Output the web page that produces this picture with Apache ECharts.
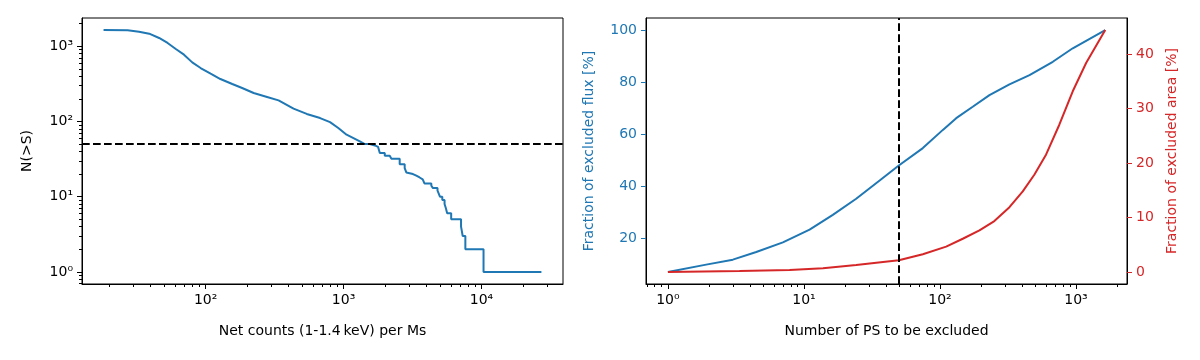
<!DOCTYPE html>
<html>
<head>
<meta charset="utf-8">
<script src="https://cdn.jsdelivr.net/npm/echarts@6/dist/echarts.min.js"></script>
<style>
  html, body { margin: 0; padding: 0; background: #fff; }
  #chart { width: 1200px; height: 360px; }
</style>
</head>
<body>
<div id="chart"></div>
<script>
// left panel: cumulative source counts N(>S)
const netCounts = [18.2, 27.2, 32.9, 39, 46, 53, 60.8, 69.7, 80, 92, 108.7, 128, 156, 184, 223, 279, 338, 434, 541, 676, 798, 916, 1052, 1313, 1426];
const nAbove = [1640, 1630, 1563, 1470, 1290, 1107, 921, 773, 611, 514, 432, 367, 315, 279, 239, 212, 191, 148, 126, 111, 98, 82, 66.7, 54.4, 50];
// bright end, drawn as steps
const tailCounts = [1426, 1549, 1687, 1778, 1832, 1990, 2162, 2224, 2553, 2775, 2852, 2933, 3185, 3370, 3560, 3750, 3860, 4330, 4450, 4800, 4900, 5000, 5200, 5400, 5520, 5640, 6030, 7110, 7310, 7640, 10350, 27200];
const tailN = [50, 48, 46, 44, 38, 35, 33, 32, 27, 24, 21, 20, 19, 18, 17, 16, 15, 14, 13, 12, 11, 10, 9, 8, 7, 6, 5, 4, 3, 2, 1, 1];
const cutLevel = 50;

// right panel: excluded flux / area vs number of PS
const psFlux = [1, 1.91, 3.0, 4.46, 7.0, 11.0, 16.3, 24.2, 36, 49.8, 74.8, 105, 131.6, 174, 231, 324, 455, 675, 946, 1640];
const fluxFrac = [6.9, 9.75, 11.67, 14.6, 18.3, 23.2, 28.9, 35.1, 42.1, 47.9, 54.6, 61.6, 66.1, 70.5, 75.0, 79.1, 82.7, 87.8, 93.0, 100];
const psArea = [1, 3.36, 7.84, 13.8, 24.2, 49.8, 74.8, 111, 147, 195, 251, 324, 406, 495, 603, 755, 946, 1186, 1640];
const areaFrac = [0, 0.18, 0.37, 0.68, 1.28, 2.14, 3.24, 4.65, 6.1, 7.64, 9.34, 11.9, 14.8, 17.9, 21.6, 27.1, 33.2, 38.4, 44.45];

// ticks
const majorLeftX = [100, 1000, 10000];
const minorLeftX = [20, 30, 40, 50, 60, 70, 80, 90, 200, 300, 400, 500, 600, 700, 800, 900,
  2000, 3000, 4000, 5000, 6000, 7000, 8000, 9000, 20000, 30000];
const majorLeftY = [1, 10, 100, 1000];
const minorLeftY = [0.7, 0.8, 0.9, 2, 3, 4, 5, 6, 7, 8, 9, 20, 30, 40, 50, 60, 70, 80, 90,
  200, 300, 400, 500, 600, 700, 800, 900, 2000];
const majorRightX = [1, 10, 100, 1000];
const minorRightX = [0.7, 0.8, 0.9, 2, 3, 4, 5, 6, 7, 8, 9, 20, 30, 40, 50, 60, 70, 80, 90,
  200, 300, 400, 500, 600, 700, 800, 900, 2000];
const fluxTicks = [20, 40, 60, 80, 100];
const areaTicks = [0, 10, 20, 30, 40];

const BLUE = '#1f77b4';
const RED = '#d62728';
const FONT = 'DejaVu Sans';
const SUP = { '0': '⁰', '1': '¹', '2': '²', '3': '³', '4': '⁴' };

function pow10(v) {
  const e = Math.round(Math.log10(v));
  return '10' + String(e).split('').map(c => SUP[c]).join('');
}

function majorAxis(extra) {
  return Object.assign({
    axisLine: { show: true, onZero: false, lineStyle: { color: '#000', width: 1 } },
    splitLine: { show: false },
    nameLocation: 'middle',
    nameTextStyle: { fontFamily: FONT, fontSize: 14, color: '#000' }
  }, extra);
}

// second axis on the same side, only for the short minor ticks
function minorAxis(extra) {
  return Object.assign({
    type: 'log',
    axisLine: { show: false, onZero: false },
    axisLabel: { show: false },
    splitLine: { show: false }
  }, extra);
}

function tick(values, color, len) {
  return { show: true, inside: false, length: len, customValues: values, lineStyle: { color: color, width: 1 } };
}

function label(values, color, fmt) {
  const l = { show: true, customValues: values, margin: 9, color: color, fontFamily: FONT, fontSize: 14 };
  if (fmt) l.formatter = fmt;
  return l;
}

const chart = echarts.init(document.getElementById('chart'), null, { renderer: 'canvas' });

chart.setOption({
  animation: false,
  backgroundColor: '#fff',
  grid: [
    { left: 82, top: 18, width: 481, height: 266, show: true, borderColor: '#000', borderWidth: 1 },
    { left: 646, top: 18, width: 481, height: 266, show: true, borderColor: '#000', borderWidth: 1 }
  ],
  xAxis: [
    majorAxis({
      type: 'log', gridIndex: 0, position: 'bottom', min: 12.7, max: 39000,
      axisTick: tick(majorLeftX, '#000', 5),
      axisLabel: label(majorLeftX, '#000', pow10),
      name: 'Net counts (1-1.4\u2009keV) per Ms', nameGap: 40
    }),
    minorAxis({ gridIndex: 0, position: 'bottom', min: 12.7, max: 39000, axisTick: tick(minorLeftX, '#000', 3) }),
    majorAxis({
      type: 'log', gridIndex: 1, position: 'bottom', min: 0.69, max: 2370,
      axisTick: tick(majorRightX, '#000', 5),
      axisLabel: label(majorRightX, '#000', pow10),
      name: 'Number of PS to be excluded', nameGap: 40
    }),
    minorAxis({ gridIndex: 1, position: 'bottom', min: 0.69, max: 2370, axisTick: tick(minorRightX, '#000', 3) })
  ],
  yAxis: [
    majorAxis({
      type: 'log', gridIndex: 0, position: 'left', min: 0.69, max: 2377,
      axisTick: tick(majorLeftY, '#000', 5),
      axisLabel: label(majorLeftY, '#000', pow10),
      name: 'N(>S)', nameGap: 48
    }),
    minorAxis({ gridIndex: 0, position: 'left', min: 0.69, max: 2377, axisTick: tick(minorLeftY, '#000', 3) }),
    majorAxis({
      type: 'value', gridIndex: 1, position: 'left', min: 2.3, max: 104.65,
      axisTick: tick(fluxTicks, BLUE, 5),
      axisLabel: label(fluxTicks, BLUE),
      name: 'Fraction of excluded flux [%]', nameGap: 50,
      nameTextStyle: { fontFamily: FONT, fontSize: 14, color: BLUE }
    }),
    majorAxis({
      type: 'value', gridIndex: 1, position: 'right', min: -2.22, max: 46.67,
      axisTick: tick(areaTicks, RED, 5),
      axisLabel: label(areaTicks, RED),
      name: 'Fraction of excluded area [%]', nameGap: 38,
      nameTextStyle: { fontFamily: FONT, fontSize: 14, color: RED }
    })
  ],
  series: [
    {
      type: 'line', xAxisIndex: 0, yAxisIndex: 0, showSymbol: false,
      data: netCounts.map((x, i) => [x, nAbove[i]]),
      lineStyle: { color: BLUE, width: 2 }, itemStyle: { color: BLUE },
      markLine: {
        silent: true, symbol: 'none', animation: false, label: { show: false },
        lineStyle: { color: '#000', width: 2, type: [7.7, 3.3] },
        data: [{ yAxis: cutLevel }]
      }
    },
    {
      type: 'line', xAxisIndex: 0, yAxisIndex: 0, showSymbol: false, step: 'end',
      data: tailCounts.map((x, i) => [x, tailN[i]]),
      lineStyle: { color: BLUE, width: 2 }, itemStyle: { color: BLUE }
    },
    {
      type: 'line', xAxisIndex: 2, yAxisIndex: 2, showSymbol: false,
      data: psFlux.map((x, i) => [x, fluxFrac[i]]),
      lineStyle: { color: BLUE, width: 2 }, itemStyle: { color: BLUE },
      markLine: {
        silent: true, symbol: 'none', animation: false, label: { show: false },
        lineStyle: { color: '#000', width: 2, type: [7.7, 3.3] },
        data: [{ xAxis: cutLevel }]
      }
    },
    {
      type: 'line', xAxisIndex: 2, yAxisIndex: 3, showSymbol: false,
      data: psArea.map((x, i) => [x, areaFrac[i]]),
      lineStyle: { color: RED, width: 2 }, itemStyle: { color: RED }
    }
  ]
});
</script>
</body>
</html>
